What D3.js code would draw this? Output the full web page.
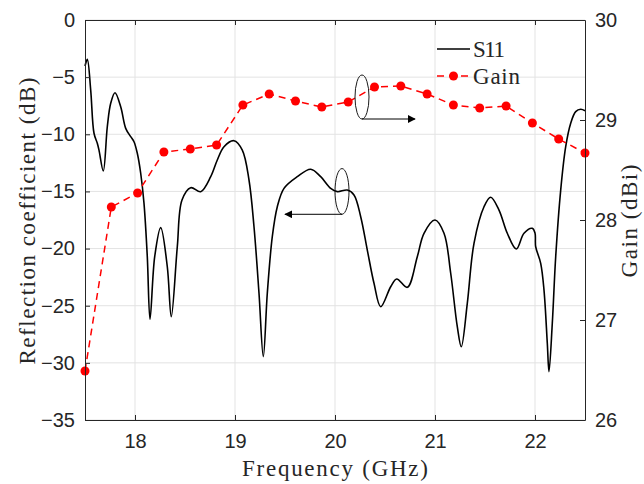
<!DOCTYPE html>
<html>
<head>
<meta charset="utf-8">
<script src="https://cdn.jsdelivr.net/npm/d3@7"></script>
<style>
  body { margin: 0; background: #fff; }
  .tick text { font-family: "Liberation Sans", Arial, sans-serif; font-size: 20px; fill: #262626; }
  .lbl { font-family: "Liberation Serif", "DejaVu Serif", serif; font-size: 23px; fill: #262626; }
</style>
</head>
<body>
<svg class="plot" width="644" height="484"></svg>
<script>
  var width = 644
  var height = 484
  var margin = { top: 20, right: 59, bottom: 64, left: 85 }

  // S11 curve (GHz, dB)
  const s11Freq = [17.500, 17.523, 17.557, 17.590, 17.623, 17.640, 17.683, 17.723, 17.757, 17.800,
    17.857, 17.907, 17.957, 17.990, 18.023, 18.057, 18.090, 18.123, 18.150, 18.197,
    18.257, 18.323, 18.363, 18.423, 18.470, 18.557, 18.657, 18.757, 18.823, 18.890,
    18.990, 19.073, 19.140, 19.190, 19.240, 19.283, 19.323, 19.373, 19.423, 19.490,
    19.623, 19.757, 19.857, 19.957, 20.023, 20.123, 20.190, 20.257, 20.323, 20.390,
    20.457, 20.557, 20.617, 20.723, 20.823, 20.890, 21.000, 21.090, 21.157, 21.223,
    21.263, 21.323, 21.390, 21.490, 21.557, 21.640, 21.723, 21.813, 21.890, 21.973,
    22.000, 22.007, 22.057, 22.090, 22.123, 22.140, 22.173, 22.207, 22.257, 22.307,
    22.357, 22.407, 22.457, 22.500]
  const s11Db = [-4.03, -3.44, -6.13, -9.91, -10.79, -11.38, -13.21, -9.34, -7.29, -6.36,
    -7.59, -9.48, -10.21, -10.65, -11.66, -13.41, -16.04, -20.71, -26.19, -20.71,
    -18.17, -21.59, -25.96, -19.84, -15.75, -14.67, -15.02, -13.71, -12.25, -11.09,
    -10.56, -11.38, -14.00, -18.09, -23.91, -29.46, -23.91, -18.96, -16.34, -14.73,
    -13.71, -13.06, -13.71, -14.73, -15.02, -14.88, -15.31, -17.21, -20.13, -23.04,
    -25.09, -23.34, -22.66, -23.39, -20.71, -18.66, -17.50, -18.66, -22.16, -26.84,
    -28.59, -24.79, -19.54, -16.34, -15.51, -16.63, -18.66, -20.04, -18.66, -18.23,
    -18.64, -19.84, -21.29, -23.63, -28.29, -30.77, -26.54, -20.71, -14.88, -11.09,
    -9.04, -8.02, -7.81, -7.94]

  // Gain points (GHz, dBi)
  const gainFreq = [17.500, 17.763, 18.026, 18.289, 18.553, 18.816, 19.079, 19.342, 19.605, 19.868,
    20.132, 20.395, 20.658, 20.921, 21.184, 21.447, 21.711, 21.974, 22.237, 22.500]
  const gainDbi = [26.49, 28.13, 28.27, 28.68, 28.71, 28.75, 29.15, 29.26, 29.19, 29.13,
    29.18, 29.33, 29.34, 29.26, 29.15, 29.12, 29.14, 28.97, 28.81, 28.67]

  const xTicks = [18, 19, 20, 21, 22]
  const yTicks = [0, -5, -10, -15, -20, -25, -30, -35]
  const y2Ticks = [26, 27, 28, 29, 30]

  const svg = d3.select("svg.plot")
  var chart_width = width - margin.left - margin.right
  var chart_height = height - margin.top - margin.bottom

  const xScale = d3.scaleLinear().domain([17.5, 22.5]).range([0, chart_width])
  const yScale = d3.scaleLinear().domain([-35, 0]).range([chart_height, 0])
  const y2Scale = d3.scaleLinear().domain([26, 30]).range([chart_height, 0])

  const g = svg.append("g").attr("transform", "translate(" + margin.left + "," + margin.top + ")")

  // gridlines
  g.append("g").selectAll("line").data(xTicks).join("line")
    .attr("x1", d => xScale(d)).attr("x2", d => xScale(d))
    .attr("y1", 0).attr("y2", chart_height)
    .attr("stroke", "#e3e3e3").attr("stroke-width", 1)
  g.append("g").selectAll("line").data(yTicks).join("line")
    .attr("y1", d => yScale(d)).attr("y2", d => yScale(d))
    .attr("x1", 0).attr("x2", chart_width)
    .attr("stroke", "#e3e3e3").attr("stroke-width", 1)

  // S11
  const s11 = s11Freq.map((f, i) => [f, s11Db[i]])
  const line = d3.line().x(d => xScale(d[0])).y(d => yScale(d[1])).curve(d3.curveCatmullRom.alpha(0.5))
  g.append("path").datum(s11)
    .attr("d", line).attr("fill", "none").attr("stroke", "#000").attr("stroke-width", 1.6)

  // gain
  const gain = gainFreq.map((f, i) => [f, gainDbi[i]])
  const gline = d3.line().x(d => xScale(d[0])).y(d => y2Scale(d[1]))
  g.append("path").datum(gain)
    .attr("d", gline).attr("fill", "none").attr("stroke", "#ff0000")
    .attr("stroke-width", 1.5).attr("stroke-dasharray", "7,5")
  g.append("g").selectAll("circle").data(gain).join("circle")
    .attr("cx", d => xScale(d[0])).attr("cy", d => y2Scale(d[1]))
    .attr("r", 4.5).attr("fill", "#ff0000")

  // axes (ticks pointing inward like matlab)
  var axisColor = "#262626"
  var fmt = d3.format("d")
  function styleAxis(sel) {
    sel.select(".domain").attr("stroke", axisColor)
    sel.selectAll(".tick line").attr("stroke", axisColor)
  }
  g.append("g").attr("transform", "translate(0," + chart_height + ")")
    .call(d3.axisBottom(xScale).tickValues(xTicks).tickFormat(fmt).tickSizeInner(-5).tickSizeOuter(0).tickPadding(14))
    .call(styleAxis)
  g.append("g")
    .call(d3.axisTop(xScale).tickValues(xTicks).tickSizeInner(-5).tickSizeOuter(0).tickFormat(""))
    .call(styleAxis)
  g.append("g")
    .call(d3.axisLeft(yScale).tickValues(yTicks).tickFormat(fmt).tickSizeInner(-5).tickSizeOuter(0).tickPadding(10))
    .call(styleAxis)
  g.append("g").attr("transform", "translate(" + chart_width + ",0)")
    .call(d3.axisRight(y2Scale).tickValues(y2Ticks).tickFormat(fmt).tickSizeInner(-5).tickSizeOuter(0).tickPadding(10))
    .call(styleAxis)
  g.selectAll(".tick text").attr("font-family", null).attr("font-size", null)

  // axis labels
  svg.append("text").attr("class", "lbl")
    .attr("transform", "translate(35," + 221 + ") rotate(-90)")
    .attr("text-anchor", "middle").attr("textLength", 287).attr("lengthAdjust", "spacing")
    .text("Reflection coefficient (dB)")
  svg.append("text").attr("class", "lbl")
    .attr("x", 335).attr("y", 476)
    .attr("text-anchor", "middle").attr("textLength", 186).attr("lengthAdjust", "spacing")
    .text("Frequency (GHz)")
  svg.append("text").attr("class", "lbl")
    .attr("transform", "translate(637," + 221 + ") rotate(-90)")
    .attr("text-anchor", "middle").attr("textLength", 113).attr("lengthAdjust", "spacing")
    .text("Gain (dBi)")

  // legend
  const legend = svg.append("g").attr("transform", "translate(437,49)")
  legend.append("line").attr("x1", 0).attr("x2", 33).attr("y1", 0).attr("y2", 0)
    .attr("stroke", "#000").attr("stroke-width", 1.6)
  legend.append("text").attr("class", "lbl").attr("x", 36).attr("y", 8)
    .attr("textLength", 32).attr("lengthAdjust", "spacing").text("S11")
  legend.append("line").attr("x1", 0).attr("x2", 33).attr("y1", 27).attr("y2", 27)
    .attr("stroke", "#ff0000").attr("stroke-width", 1.5).attr("stroke-dasharray", "7,5")
  legend.append("circle").attr("cx", 16.5).attr("cy", 27).attr("r", 4.5).attr("fill", "#ff0000")
  legend.append("text").attr("class", "lbl").attr("x", 36).attr("y", 35)
    .attr("textLength", 47).attr("lengthAdjust", "spacing").text("Gain")

  // annotation ellipses + arrows (data units)
  svg.append("defs").append("marker").attr("id", "arr")
    .attr("viewBox", "0 0 10 10").attr("refX", 9).attr("refY", 5)
    .attr("markerWidth", 8).attr("markerHeight", 8).attr("markerUnits", "userSpaceOnUse")
    .attr("orient", "auto")
    .append("path").attr("d", "M0,0 L10,5 L0,10 Z").attr("fill", "#000")

  const notes = [
    { f: 20.27, v: 29.23, rv: 0.22, to: 20.80, axis: "gain" },
    { f: 20.07, v: -15.0, rv: 2.0, to: 19.50, axis: "s11" }
  ]
  notes.forEach(n => {
    var sc = n.axis == "gain" ? y2Scale : yScale
    var cx = xScale(n.f), cy = sc(n.v)
    var ry = Math.abs(sc(n.v + n.rv) - cy)
    g.append("ellipse").attr("cx", cx).attr("cy", cy).attr("rx", 7).attr("ry", ry)
      .attr("fill", "none").attr("stroke", "#000").attr("stroke-width", 0.9)
    g.append("line").attr("x1", cx).attr("x2", xScale(n.to))
      .attr("y1", cy + ry).attr("y2", cy + ry)
      .attr("stroke", "#000").attr("stroke-width", 1).attr("marker-end", "url(#arr)")
  })
</script>
</body>
</html>
